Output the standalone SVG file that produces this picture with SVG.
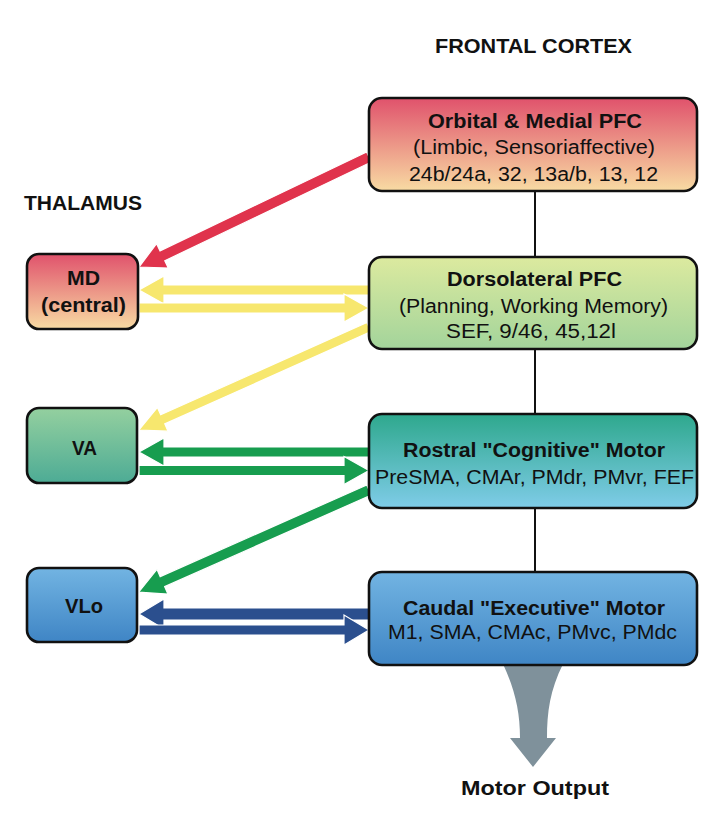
<svg xmlns="http://www.w3.org/2000/svg" width="710" height="827" viewBox="0 0 710 827">
<defs>
<linearGradient id="gRed" x1="0" y1="0" x2="0" y2="1"><stop offset="0" stop-color="#e0526c"/><stop offset="1" stop-color="#f8dba3"/></linearGradient>
<linearGradient id="gYel" x1="0" y1="0" x2="0" y2="1"><stop offset="0" stop-color="#dcea9f"/><stop offset="1" stop-color="#a3d49b"/></linearGradient>
<linearGradient id="gVA" x1="0" y1="0" x2="0" y2="1"><stop offset="0" stop-color="#94d09f"/><stop offset="1" stop-color="#4dab95"/></linearGradient>
<linearGradient id="gRos" x1="0" y1="0" x2="0" y2="1"><stop offset="0" stop-color="#2ea88d"/><stop offset="1" stop-color="#7fcce8"/></linearGradient>
<linearGradient id="gBlue" x1="0" y1="0" x2="0" y2="1"><stop offset="0" stop-color="#72b4e2"/><stop offset="1" stop-color="#3f85c5"/></linearGradient>
</defs>
<style>
text{font-family:"Liberation Sans",Arial,Helvetica,sans-serif;font-size:20px;fill:#111;text-anchor:middle}
.b{font-weight:bold}
.box{stroke:#111;stroke-width:2.6}
.arr{stroke:#fff;stroke-width:1.2;stroke-linejoin:miter}
.red{fill:#e0334c}
.yel{fill:#f7e76e}
.grn{fill:#179d4f}
.blu{fill:#2b4f8e}
.vline{stroke:#111;stroke-width:2;fill:none}
</style>
<rect width="710" height="827" fill="#fff"/>
<text class="b" x="533.5" y="53" textLength="197" lengthAdjust="spacingAndGlyphs">FRONTAL CORTEX</text>
<text class="b" x="83" y="210" textLength="118" lengthAdjust="spacingAndGlyphs">THALAMUS</text>
<g id="connectors">
<path class="vline" d="M535,191 V257 M535,349 V414 M535,508 V572"/>
<path d="M503,664 C515,690 520,712 520,738 L510,738 L533,767 L556,738 L547,738 C547,712 550,690 563,664 Z" fill="#7f919b"/>
<polygon class="arr red" transform="translate(369,157) rotate(154.44)" points="0,-5.5 229,-5.5 229,-13.5 255,0 229,13.5 229,5.5 0,5.5"/>
<polygon class="arr yel" transform="translate(369,327) rotate(155.88)" points="0,-5 226,-5 226,-13 252,0 226,13 226,5 0,5"/>
<polygon class="arr grn" transform="translate(369,490) rotate(156.08)" points="0,-5.5 226,-5.5 226,-13.5 252,0 226,13.5 226,5.5 0,5.5"/>
<polygon class="arr yel" points="369,285 164,285 164,276 139,290 164,304 164,295 369,295"/>
<polygon class="arr yel" points="139,303 344,303 344,294 369,308 344,322 344,313 139,313"/>
<polygon class="arr grn" points="369,447 164,447 164,438 139,452 164,466 164,457 369,457"/>
<polygon class="arr grn" points="139,465.5 344,465.5 344,456.5 369,470.5 344,484.5 344,475.5 139,475.5"/>
<polygon class="arr blu" points="369,608 164,608 164,599 139,614 164,629 164,620 369,620"/>
<polygon class="arr blu" points="139,625 344,625 344,615 369,630 344,645 344,635 139,635"/>
</g>
<g id="orbital">
<rect class="box" x="369" y="98" width="328" height="93" rx="13" fill="url(#gRed)"/>
<text class="b" x="535" y="128" textLength="214" lengthAdjust="spacingAndGlyphs">Orbital &amp; Medial PFC</text>
<text x="534" y="154" textLength="242" lengthAdjust="spacingAndGlyphs">(Limbic, Sensoriaffective)</text>
<text x="533.5" y="181" textLength="249" lengthAdjust="spacingAndGlyphs">24b/24a, 32, 13a/b, 13, 12</text>
</g>
<g id="dorsolateral">
<rect class="box" x="369" y="257" width="328" height="92" rx="13" fill="url(#gYel)"/>
<text class="b" x="534.5" y="286" textLength="175" lengthAdjust="spacingAndGlyphs">Dorsolateral PFC</text>
<text x="533.5" y="313" textLength="269" lengthAdjust="spacingAndGlyphs">(Planning, Working Memory)</text>
<text x="531" y="338" textLength="170" lengthAdjust="spacingAndGlyphs">SEF, 9/46, 45,12l</text>
</g>
<g id="rostral">
<rect class="box" x="369" y="414" width="328" height="94" rx="13" fill="url(#gRos)"/>
<text class="b" x="534" y="457" textLength="262" lengthAdjust="spacingAndGlyphs">Rostral "Cognitive" Motor</text>
<text x="534.5" y="484" textLength="319" lengthAdjust="spacingAndGlyphs">PreSMA, CMAr, PMdr, PMvr, FEF</text>
</g>
<g id="caudal">
<rect class="box" x="369" y="572" width="328" height="93" rx="13" fill="url(#gBlue)"/>
<text class="b" x="534" y="615" textLength="262" lengthAdjust="spacingAndGlyphs">Caudal "Executive" Motor</text>
<text x="532.5" y="639" textLength="289" lengthAdjust="spacingAndGlyphs">M1, SMA, CMAc, PMvc, PMdc</text>
</g>
<g id="md">
<rect class="box" x="27" y="254" width="111" height="75" rx="12" fill="url(#gRed)"/>
<text class="b" x="83.5" y="285" textLength="33" lengthAdjust="spacingAndGlyphs">MD</text>
<text class="b" x="83.5" y="312" textLength="85" lengthAdjust="spacingAndGlyphs">(central)</text>
</g>
<g id="va">
<rect class="box" x="27" y="408" width="110" height="75" rx="12" fill="url(#gVA)"/>
<text class="b" x="84.5" y="455" textLength="25" lengthAdjust="spacingAndGlyphs">VA</text>
</g>
<g id="vlo">
<rect class="box" x="27" y="568" width="110" height="74" rx="12" fill="url(#gBlue)"/>
<text class="b" x="84" y="613" textLength="38" lengthAdjust="spacingAndGlyphs">VLo</text>
</g>
<g id="motor-output">
<text class="b" x="535" y="795" textLength="148" lengthAdjust="spacingAndGlyphs">Motor Output</text>
</g>
</svg>
